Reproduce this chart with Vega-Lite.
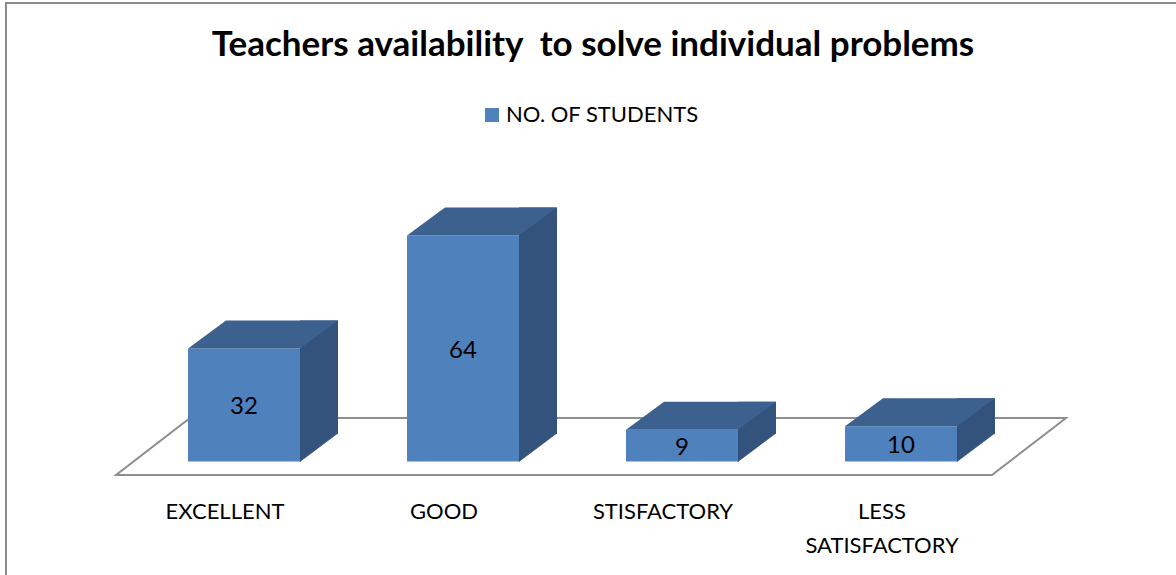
{
  "$schema": "https://vega.github.io/schema/vega-lite/v6.json",
  "width": 1176,
  "height": 575,
  "autosize": {"type": "fit", "contains": "padding"},
  "padding": {"left": 6, "top": 3, "right": -4, "bottom": -4},
  "background": "white",
  "config": {"view": {"stroke": "#8C8C8C", "strokeWidth": 2}, "font": "Lato"},
  "title": {"text": "Teachers availability\u00a0 to solve individual problems", "font": "Lato", "fontSize": 35, "fontWeight": "bold", "color": "#000000", "anchor": "middle", "frame": "group", "baseline": "alphabetic", "offset": -88},
  "data": {"values": [
    {"category": "EXCELLENT", "n": 32},
    {"category": "GOOD", "n": 64},
    {"category": "STISFACTORY", "n": 9},
    {"category": "LESS SATISFACTORY", "n": 10}
  ]},
  "resolve": {"scale": {"y": "independent"}},
  "layer": [
    {
      "layer": [
        {
          "transform": [{"filter": "datum.category === 'EXCELLENT'"}],
          "mark": {"type": "point", "shape": "M-128,13.5L748,13.5L822,-43.5L-54,-43.5Z", "size": 4, "filled": true, "fill": "white", "stroke": "#8E8E8E", "strokeWidth": 2, "opacity": 1},
          "encoding": {
            "x": {"field": "category", "type": "nominal", "sort": null, "scale": {"type": "band", "domain": ["EXCELLENT", "GOOD", "STISFACTORY", "LESS SATISFACTORY"], "paddingInner": 0.4886, "paddingOuter": 0.92466, "align": 0.4494, "round": false},
              "axis": {"title": null, "domain": false, "ticks": false, "grid": false, "labelAngle": 0, "labelFont": "Lato", "labelFontSize": 22, "labelColor": "#000000", "labelPadding": 0, "labelBaseline": "alphabetic", "labelOffset": -19, "offset": -61, "labelLineHeight": 34, "labelOverlap": false, "labelBound": false, "labelLimit": 400,
                "labelExpr": "datum.value === 'LESS SATISFACTORY' ? ['LESS', 'SATISFACTORY'] : datum.label"}},
            "y": {"datum": 0, "type": "quantitative", "scale": {"domain": [-33.28, 129.85], "nice": false, "zero": false}, "axis": null}
          }
        },
        {
          "mark": {"type": "bar", "width": 38, "xOffset": 75, "yOffset": -28, "y2Offset": -28, "color": "#33537C"},
          "encoding": {
            "x": {"field": "category", "type": "nominal", "sort": null},
            "y": {"field": "n", "type": "quantitative", "axis": null},
            "y2": {"datum": 0}
          }
        },
        {
          "mark": {"type": "point", "shape": "M56,-28.5L94,-28.5L56,0Z", "size": 4, "filled": true, "color": "#33537C", "stroke": "#33537C", "strokeWidth": 0.8, "opacity": 1},
          "encoding": {
            "x": {"field": "category", "type": "nominal", "sort": null},
            "y": {"datum": 0, "type": "quantitative"}
          }
        },
        {
          "mark": {"type": "bar"},
          "encoding": {
            "x": {"field": "category", "type": "nominal", "sort": null},
            "y": {"field": "n", "type": "quantitative"},
            "y2": {"datum": 0},
            "color": {"datum": "NO. OF STUDENTS", "type": "nominal", "scale": {"range": ["#4F81BD"]},
              "legend": {"title": null, "orient": "none", "legendX": 475, "legendY": 101, "symbolType": "square", "symbolSize": 196, "symbolStrokeWidth": 0, "labelFont": "Lato", "labelFontSize": 22, "labelColor": "#000000", "labelOffset": 3, "labelLimit": 400, "padding": 0}}
          }
        },
        {
          "mark": {"type": "point", "shape": "M-56,0L-18,-28L94,-28L56,0Z", "size": 4, "filled": true, "color": "#3C618E", "strokeWidth": 0, "opacity": 1},
          "encoding": {
            "x": {"field": "category", "type": "nominal", "sort": null},
            "y": {"field": "n", "type": "quantitative"}
          }
        }
      ]
    },
    {
      "mark": {"type": "text", "font": "Lato", "fontSize": 24, "color": "#000000", "baseline": "middle", "align": "center", "dy": 2},
      "encoding": {
        "x": {"field": "category", "type": "nominal", "sort": null},
        "y": {"field": "n", "type": "quantitative", "scale": {"domain": [-66.56, 259.7], "nice": false, "zero": false}, "axis": null},
        "text": {"field": "n", "type": "quantitative"}
      }
    }
  ]
}
